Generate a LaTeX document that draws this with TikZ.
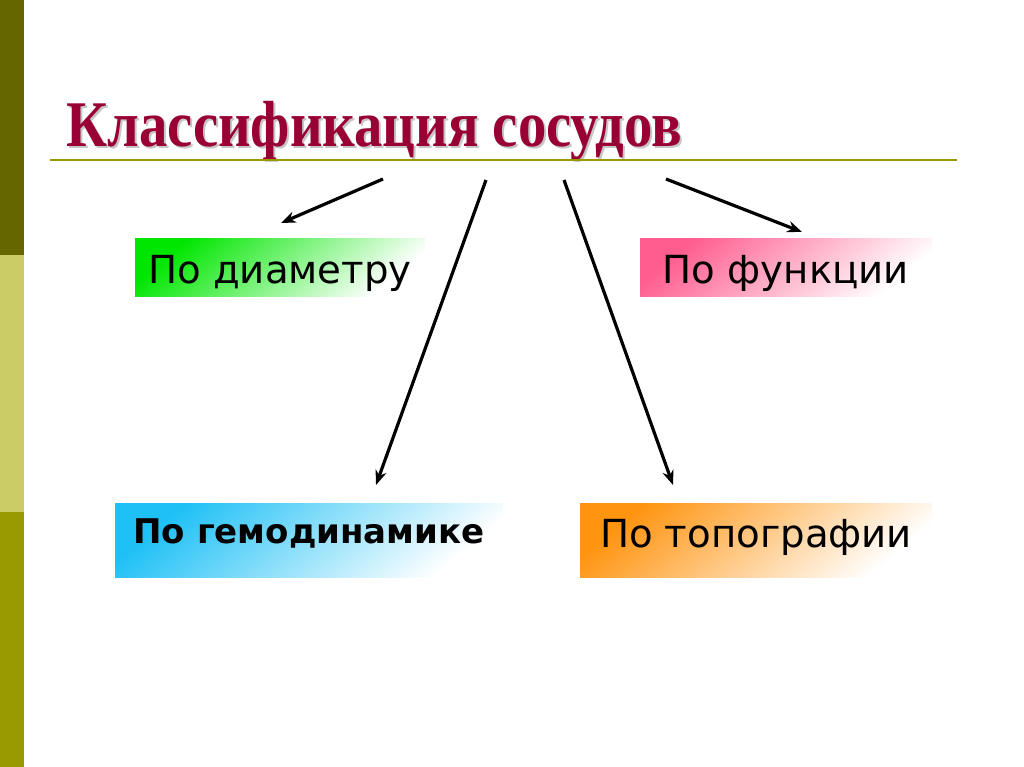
\documentclass[tikz,border=0pt]{standalone}
\usepackage{fontspec}
\setmainfont{Liberation Serif}
\newfontfamily\boxfont{DejaVu Sans}
\usetikzlibrary{arrows.meta}
\definecolor{barDark}{HTML}{666600}
\definecolor{barLight}{HTML}{CCCC66}
\definecolor{barOlive}{HTML}{999900}
\definecolor{titleRed}{HTML}{990033}
\definecolor{diamGreen}{HTML}{00E600}
\definecolor{funcPink}{HTML}{FF5C8F}
\definecolor{hemoBlue}{HTML}{1EC0F5}
\definecolor{topoOrange}{HTML}{FF9410}
\begin{document}
\begin{tikzpicture}[x=0.75pt,y=-0.75pt,
  kind/.style={inner sep=0pt,font=\boxfont\fontsize{29}{32}\selectfont},
  arr/.style={line width=2.4pt,-{Stealth[length=11pt,width=8.5pt]}}]

\useasboundingbox (0,0) rectangle (1024,767);
\fill [barDark] (0,0) rectangle (24,255);
\fill [barLight] (0,255) rectangle (24,512);
\fill [barOlive] (0,512) rectangle (24,767);

\node [anchor=base west,gray!45,font=\bfseries\fontsize{42.5}{46}\selectfont] (shadow) at (64,148) {\scalebox{1}[1.15]{Классификация сосудов}};
\node [anchor=base west,titleRed,font=\bfseries\fontsize{42.5}{46}\selectfont] (title) at (62,146) {\scalebox{1}[1.15]{Классификация сосудов}};
\draw [barOlive,line width=1.8pt] (50,160) -- (957,160);

\node [kind,top color=diamGreen,bottom color=white,shading angle=40,minimum width=290*0.75pt,minimum height=58*0.75pt,text height=24pt,text depth=0pt] (diam) at (280,267) {По диаметру};
\node [kind,top color=funcPink,bottom color=white,shading angle=40,minimum width=292*0.75pt,minimum height=58*0.75pt,text height=24pt,text depth=0pt] (func) at (786,267) {По функции};
\node [kind,top color=hemoBlue,bottom color=white,shading angle=40,minimum width=388*0.75pt,minimum height=74*0.75pt,text height=12pt,text depth=7.5pt,font=\boxfont\bfseries\fontsize{25.5}{28}\selectfont] (hemo) at (309,540) {По гемодинамике};
\node [kind,top color=topoOrange,bottom color=white,shading angle=40,minimum width=352*0.75pt,minimum height=74*0.75pt,text height=18pt,text depth=7.5pt] (topo) at (756,540) {По топографии};

\coordinate (s1) at (383,179);
\coordinate (t1) at (281,223);
\coordinate (s2) at (486,180);
\coordinate (t2) at (376,485);
\coordinate (s3) at (564,180);
\coordinate (t3) at (673,485);
\coordinate (s4) at (666,179);
\coordinate (t4) at (802,232);
\draw [arr] (s1) -- (t1);
\draw [arr] (s2) -- (t2);
\draw [arr] (s3) -- (t3);
\draw [arr] (s4) -- (t4);

\end{tikzpicture}
\end{document}
